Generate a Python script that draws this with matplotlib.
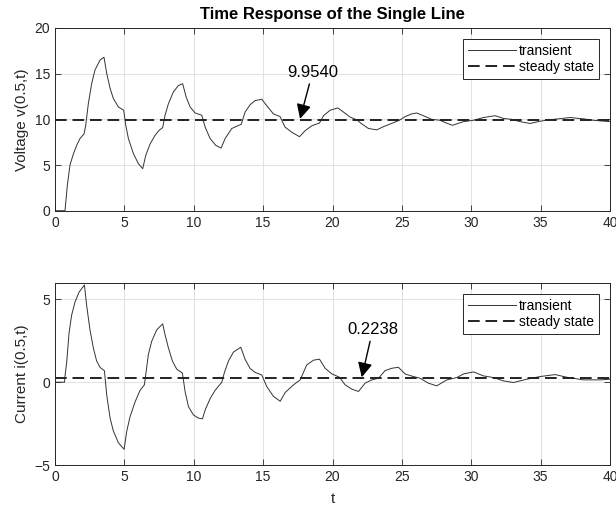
import matplotlib
matplotlib.use("Agg")
import matplotlib.pyplot as plt

# values
t_volt = [0, 0.72, 0.89, 1.08, 1.32, 1.56, 1.8, 2.09, 2.21, 2.4, 2.64, 2.88, 3.25,
          3.53, 3.73, 3.97, 4.2, 4.57, 4.95, 5.1, 5.29, 5.65, 6.01, 6.32, 6.54, 6.85,
          7.21, 7.5, 7.76, 7.93, 8.17, 8.53, 8.89, 9.2, 9.45, 9.74, 10.1, 10.58,
          10.82, 11.18, 11.59, 11.97, 12.26, 12.74, 13.17, 13.42, 13.7, 14.06, 14.42,
          14.9, 15.26, 15.74, 16.22, 16.58, 17.06, 17.62, 18.03, 18.51, 19.06, 19.35,
          19.83, 20.38, 20.79, 21.27, 21.75, 22.11, 22.59, 23.19, 23.67, 24.27, 24.82,
          25.23, 25.71, 26.07, 26.55, 27.15, 27.75, 28.2, 28.65, 29.44, 30.16, 30.88,
          31.72, 32.32, 32.92, 33.52, 34.24, 34.96, 35.92, 37.13, 38.1, 38.8, 40.0]
v_volt = [0, 0, 2.8, 5.0, 6.2, 7.15, 7.9, 8.4, 9.3, 11.7, 13.9, 15.4, 16.5,
          16.8, 15.0, 13.4, 12.3, 11.35, 11.0, 9.35, 7.9, 6.25, 5.15, 4.6, 6.06, 7.3,
          8.25, 8.8, 9.1, 10.45, 11.7, 13.0, 13.7, 13.9, 12.45, 11.35, 10.7, 10.45,
          9.15, 7.9, 7.15, 6.86, 7.9, 9.0, 9.3, 9.45, 10.8, 11.6, 12.05,
          12.2, 11.5, 10.6, 10.3, 9.15, 8.6, 8.1, 8.77, 9.3, 9.6, 10.4,
          11.0, 11.25, 10.8, 10.25, 9.95, 9.5, 9.0, 8.85, 9.2, 9.56, 9.9,
          10.3, 10.6, 10.7, 10.4, 10.0, 9.9, 9.6, 9.35, 9.75, 9.9, 10.2,
          10.4, 10.1, 10.0, 9.75, 9.55, 9.8, 10.0, 10.2, 10.05, 9.9, 9.75]

t_curr = [0, 0.69, 0.71, 0.84, 1.01, 1.2, 1.44, 1.73, 2.12, 2.28, 2.52, 2.76, 3.0,
          3.25, 3.56, 3.73, 3.97, 4.21, 4.57, 4.98, 5.17, 5.41, 5.77, 6.13, 6.44,
          6.56, 6.73, 6.97, 7.33, 7.76, 7.93, 8.17, 8.46, 8.77, 9.18, 9.38, 9.62,
          9.98, 10.34, 10.63, 10.82, 11.18, 11.54, 12.02, 12.21, 12.5, 12.86, 13.39,
          13.7, 14.06, 14.42, 14.9, 15.26, 15.75, 16.23, 16.59, 17.19, 17.67, 18.14,
          18.63, 19.06, 19.47, 19.95, 20.5, 20.91, 21.39, 21.87, 22.35, 22.83, 23.31,
          23.79, 24.27, 24.75, 25.23, 25.83, 26.31, 26.91, 27.51, 28.24, 28.96, 29.44,
          30.16, 30.88, 31.6, 32.32, 33.04, 34.0, 34.96, 36.04, 36.88, 38.08, 39.3,
          40.0]
i_curr = [0, 0, 0.3, 1.19, 2.96, 4.05, 4.84, 5.43, 5.87, 4.64, 3.16, 2.08, 1.28,
          0.89, 0.69, -0.79, -2.17, -2.96, -3.66, -4.05, -2.96, -2.08, -1.19, -0.49, -0.16,
          0.59, 1.68, 2.47, 3.16, 3.52, 2.87, 2.08, 1.28, 0.79, 0.55, -0.59, -1.48,
          -1.98, -2.17, -2.21, -1.68, -0.99, -0.49, 0.0, 0.59, 1.28, 1.82, 2.11,
          1.38, 0.83, 0.59, 0.44, -0.26, -0.86, -1.15, -0.62, -0.16, 0.14, 1.04,
          1.33, 1.39, 0.84, 0.5, 0.3, -0.16, -0.42, -0.56, -0.06, 0.14, 0.24,
          0.7, 0.84, 0.9, 0.5, 0.34, 0.24, -0.06, -0.22, 0.14, 0.28, 0.5,
          0.62, 0.38, 0.28, 0.08, -0.02, 0.18, 0.34, 0.46, 0.3, 0.14, 0.14,
          0.18]

v_steady = 9.9540
i_steady = 0.2238

plt.rcParams["font.family"] = ["Liberation Sans", "DejaVu Sans"]
plt.rcParams["font.size"] = 10

fig = plt.figure(figsize=(6.16, 5.09), dpi=100)
ax1 = fig.add_axes([0.0893, 0.586, 0.901, 0.359])
ax2 = fig.add_axes([0.0893, 0.0864, 0.901, 0.358])

def style_axes(ax):
    ax.grid(True, color="#e3e3e3", linewidth=0.8)
    ax.set_axisbelow(True)
    ax.tick_params(direction="in", top=True, right=True, length=4,
                   colors="#262626", labelsize=10, width=0.6)
    for sp in ax.spines.values():
        sp.set_color("#262626")
        sp.set_linewidth(0.7)
    ax.set_xlim(0, 40)
    ax.set_xticks(range(0, 41, 5))

def add_legend(ax):
    leg = ax.legend(loc="upper right", fancybox=False, edgecolor="#262626",
                    framealpha=1, borderpad=0.35, handlelength=3.5,
                    handletextpad=0.2, labelspacing=0.15,
                    borderaxespad=0.8, fontsize=10)
    leg.get_frame().set_linewidth(0.7)

arrow_style = dict(arrowstyle="-|>", color="black", lw=1.0,
                   mutation_scale=22, shrinkA=1, shrinkB=0)

# voltage
ax1.plot(t_volt, v_volt, color="#333333", linewidth=0.7, label="transient")
ax1.axhline(v_steady, color="#222222", linestyle=(0, (6, 3)), linewidth=1.4,
            label="steady state")
style_axes(ax1)
ax1.set_ylim(0, 20)
ax1.set_yticks([0, 5, 10, 15, 20])
ax1.set_ylabel("Voltage v(0.5,t)", color="#262626", fontsize=11)
ax1.set_title("Time Response of the Single Line", fontweight="bold", fontsize=12,
              pad=6.5)
ax1.annotate(f"{v_steady:.4f}", xy=(17.66, 10.05), xytext=(18.56, 15.15),
             ha="center", va="center", fontsize=12, arrowprops=arrow_style)
add_legend(ax1)

# current
ax2.plot(t_curr, i_curr, color="#333333", linewidth=0.7, label="transient")
ax2.axhline(i_steady, color="#222222", linestyle=(0, (6, 3)), linewidth=1.4,
            label="steady state")
style_axes(ax2)
ax2.set_ylim(-5, 6)
ax2.set_yticks([-5, 0, 5])
ax2.set_ylabel("Current i(0.5,t)", color="#262626", fontsize=11)
ax2.set_xlabel("t", color="#262626", fontsize=11, labelpad=6)
ax2.annotate(f"{i_steady:.4f}", xy=(22.11, 0.3), xytext=(22.9, 3.17),
             ha="center", va="center", fontsize=12, arrowprops=arrow_style)
add_legend(ax2)

fig.savefig("out.png", dpi=100)
